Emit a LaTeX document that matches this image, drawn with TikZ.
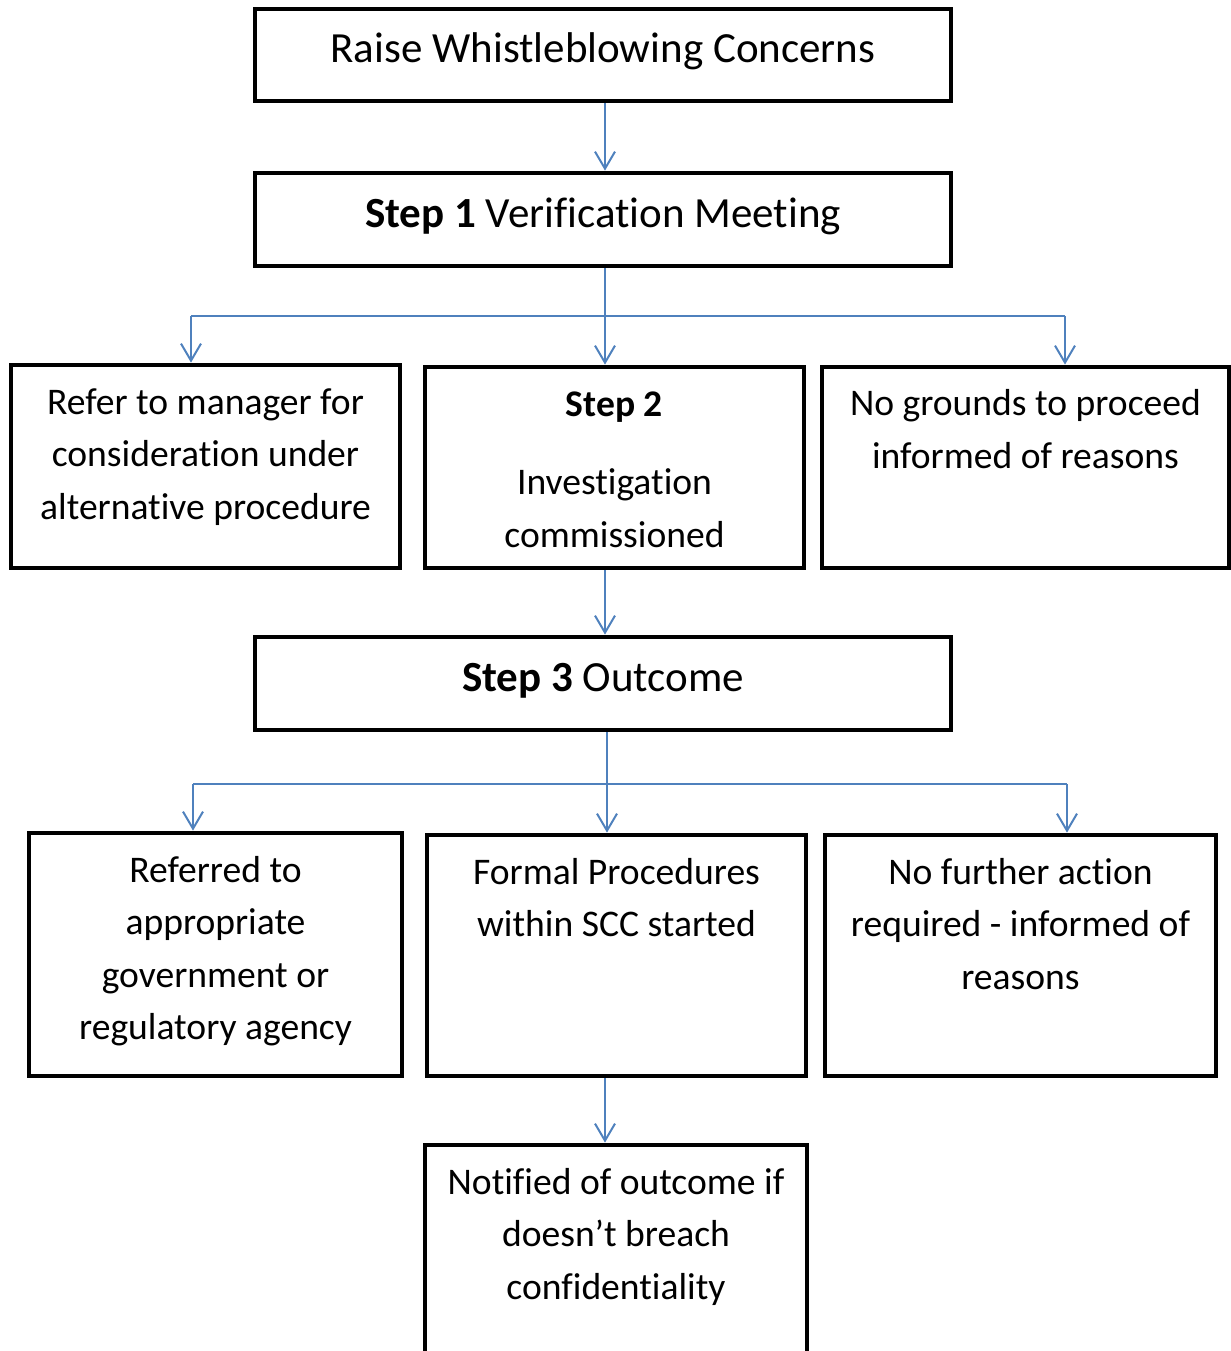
\documentclass[tikz,border=0pt]{standalone}
\usepackage{fontspec}
\setmainfont{Carlito}[Ligatures=NoCommon]
\usetikzlibrary{arrows.meta,fit}

\definecolor{linkblue}{RGB}{79,129,189}

\tikzset{
    box/.style={draw, line width=2.4pt, inner sep=0pt},
    head/.style={anchor=base, align=center, inner sep=0pt,
        font=\fontsize{21.5}{26.25}\selectfont},
    txt/.style={anchor=base, align=center, inner sep=0pt,
        font=\fontsize{18.8}{26.25}\selectfont},
    link/.style={linkblue, line width=1pt},
    arr/.style={link, -{Straight Barb[length=8.5pt, width=10pt, line width=1pt]}}
}

\begin{document}
\begin{tikzpicture}[x=0.5pt, y=-0.5pt]
    \useasboundingbox (0,0) rectangle (1231,1351);

    \def\ya{316};
    \def\yb{784};

    % boxes
    \node[box, fit={(255,9) (951,101)}] (raise) {};
    \node[box, fit={(255,173) (951,266)}] (verify) {};
    \node[box, fit={(11,365) (400,568)}] (refer) {};
    \node[box, fit={(425,367) (804,568)}] (invest) {};
    \node[box, fit={(822,367) (1229,568)}] (nogrounds) {};
    \node[box, fit={(255,637) (951,730)}] (outcome) {};
    \node[box, fit={(29,833) (402,1076)}] (agency) {};
    \node[box, fit={(427,835) (806,1076)}] (formal) {};
    \node[box, fit={(825,835) (1216,1076)}] (nofurther) {};
    \node[box, fit={(425,1145) (807,1420)}] (notified) {};

    % texts (base = last line)
    \node[head] (raise-t) at (603, 62) {Raise Whistleblowing Concerns};
    \node[head] (verify-t) at (603, 227) {\textbf{Step 1} Verification Meeting};
    \node[head] (outcome-t) at (603, 691) {\textbf{Step 3} Outcome};
    \node[txt] (refer-t) at (205.5, 519) {Refer to manager for\\consideration under\\alternative procedure};
    \node[txt] (invest-t) at (614.5, 547) {\textbf{Step 2}\\[12.75pt]Investigation\\commissioned};
    \node[txt] (nogrounds-t) at (1025.5, 468) {No grounds to proceed\\informed of reasons};
    \node[txt] (agency-t) at (215.5, 1039.5) {Referred to\\appropriate\\government or\\regulatory agency};
    \node[txt] (formal-t) at (616.5, 936.5) {Formal Procedures\\within SCC started};
    \node[txt] (nofurther-t) at (1020.5, 989) {No further action\\required - informed of\\reasons};
    \node[txt] (notified-t) at (616, 1299) {Notified of outcome if\\doesn’t breach\\confidentiality};

    % split points
    \coordinate (ja) at (605, \ya);
    \coordinate (jal) at (191, \ya);
    \coordinate (jar) at (1065, \ya);
    \coordinate (jb) at (607, \yb);
    \coordinate (jbl) at (193, \yb);
    \coordinate (jbr) at (1067, \yb);

    % connectors
    \draw[arr] (raise.south -| ja) -- (verify.north -| ja);
    \draw[arr] (verify.south -| ja) -- (invest.north -| ja);
    \draw[link] (jal) -- (jar);
    \draw[arr] (jal) -- (refer.north -| jal);
    \draw[arr] (jar) -- (nogrounds.north -| jar);
    \draw[arr] (invest.south -| ja) -- (outcome.north -| ja);

    \draw[arr] (outcome.south -| jb) -- (formal.north -| jb);
    \draw[link] (jbl) -- (jbr);
    \draw[arr] (jbl) -- (agency.north -| jbl);
    \draw[arr] (jbr) -- (nofurther.north -| jbr);
    \draw[arr] (formal.south -| ja) -- (notified.north -| ja);
\end{tikzpicture}
\end{document}
